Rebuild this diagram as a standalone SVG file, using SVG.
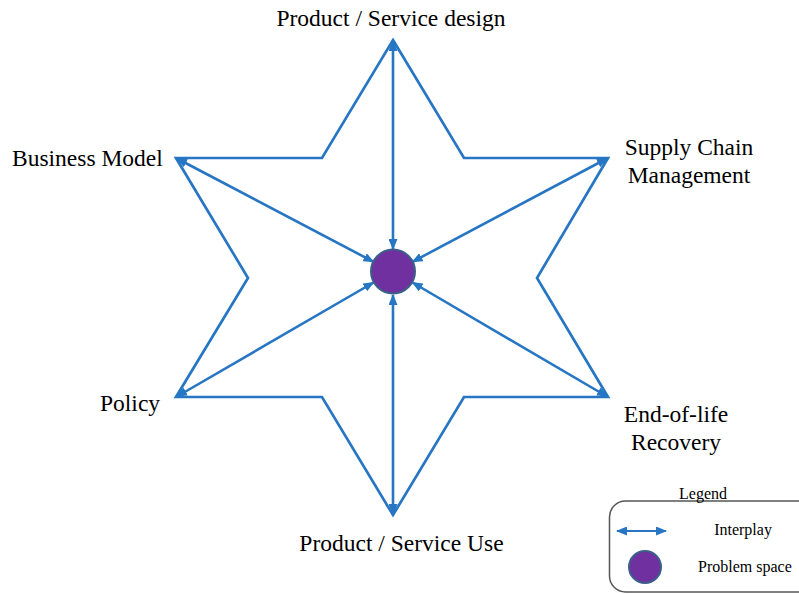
<svg xmlns="http://www.w3.org/2000/svg" width="799" height="594" viewBox="0 0 799 594">
<defs>
<marker id="ah" markerUnits="userSpaceOnUse" markerWidth="11" markerHeight="9" refX="10" refY="4.5" orient="auto-start-reverse" viewBox="0 0 11 9">
<path d="M0,0 L11,4.5 L0,9 Z" fill="#2676C4"/>
</marker>
</defs>
<style>
.lbl{font-family:"Liberation Serif","Times New Roman",serif;font-size:23.5px;fill:#000}
.leg{font-family:"Liberation Serif","Times New Roman",serif;font-size:16px;fill:#000}
.ln{stroke:#2676C4;stroke-width:2.7;fill:none}
.arr{stroke:#2676C4;stroke-width:2.6;fill:none;marker-start:url(#ah);marker-end:url(#ah)}
.prob{fill:#7030A0;stroke:#3B5F8A;stroke-width:2}
</style>
<rect width="799" height="594" fill="#fff"/>
<g id="star">
<polygon class="ln" points="393,40 464,158 608,158 537,278 608,397 464,397 393,515 322,397 176,397 248,278 176,158 322,158" stroke-linejoin="miter"/>
</g>
<g id="connectors">
<line class="arr" x1="393" y1="41" x2="393" y2="249"/>
<line class="arr" x1="393" y1="514" x2="393" y2="295"/>
<line class="arr" x1="177" y1="158.5" x2="373.5" y2="261.8"/>
<line class="arr" x1="607" y1="158.5" x2="412.5" y2="261.8"/>
<line class="arr" x1="177" y1="396.5" x2="373.5" y2="282.5"/>
<line class="arr" x1="607" y1="396.5" x2="412.5" y2="282.5"/>
</g>
<g id="problem-space">
<circle class="prob" cx="393" cy="271.5" r="22"/>
</g>
<g id="product-service-design"><text class="lbl" x="391" y="26" text-anchor="middle">Product / Service design</text></g>
<g id="business-model"><text class="lbl" x="12" y="166">Business Model</text></g>
<g id="supply-chain"><text class="lbl" x="689" y="155" text-anchor="middle">Supply Chain</text><text class="lbl" x="689" y="183" text-anchor="middle">Management</text></g>
<g id="policy"><text class="lbl" x="100" y="411">Policy</text></g>
<g id="end-of-life"><text class="lbl" x="676" y="422" text-anchor="middle">End-of-life</text><text class="lbl" x="676" y="450" text-anchor="middle">Recovery</text></g>
<g id="product-service-use"><text class="lbl" x="401.5" y="551" text-anchor="middle">Product / Service Use</text></g>
<g id="legend">
<rect x="609.5" y="501" width="210" height="91" rx="16" ry="16" fill="none" stroke="#555" stroke-width="1.5"/>
<text class="leg" x="703" y="499" text-anchor="middle">Legend</text>
<line class="arr" x1="617" y1="531" x2="666" y2="531" style="stroke-width:2"/>
<text class="leg" x="743" y="535" text-anchor="middle">Interplay</text>
<circle class="prob" cx="645" cy="567" r="16"/>
<text class="leg" x="698" y="572">Problem space</text>
</g>
</svg>
